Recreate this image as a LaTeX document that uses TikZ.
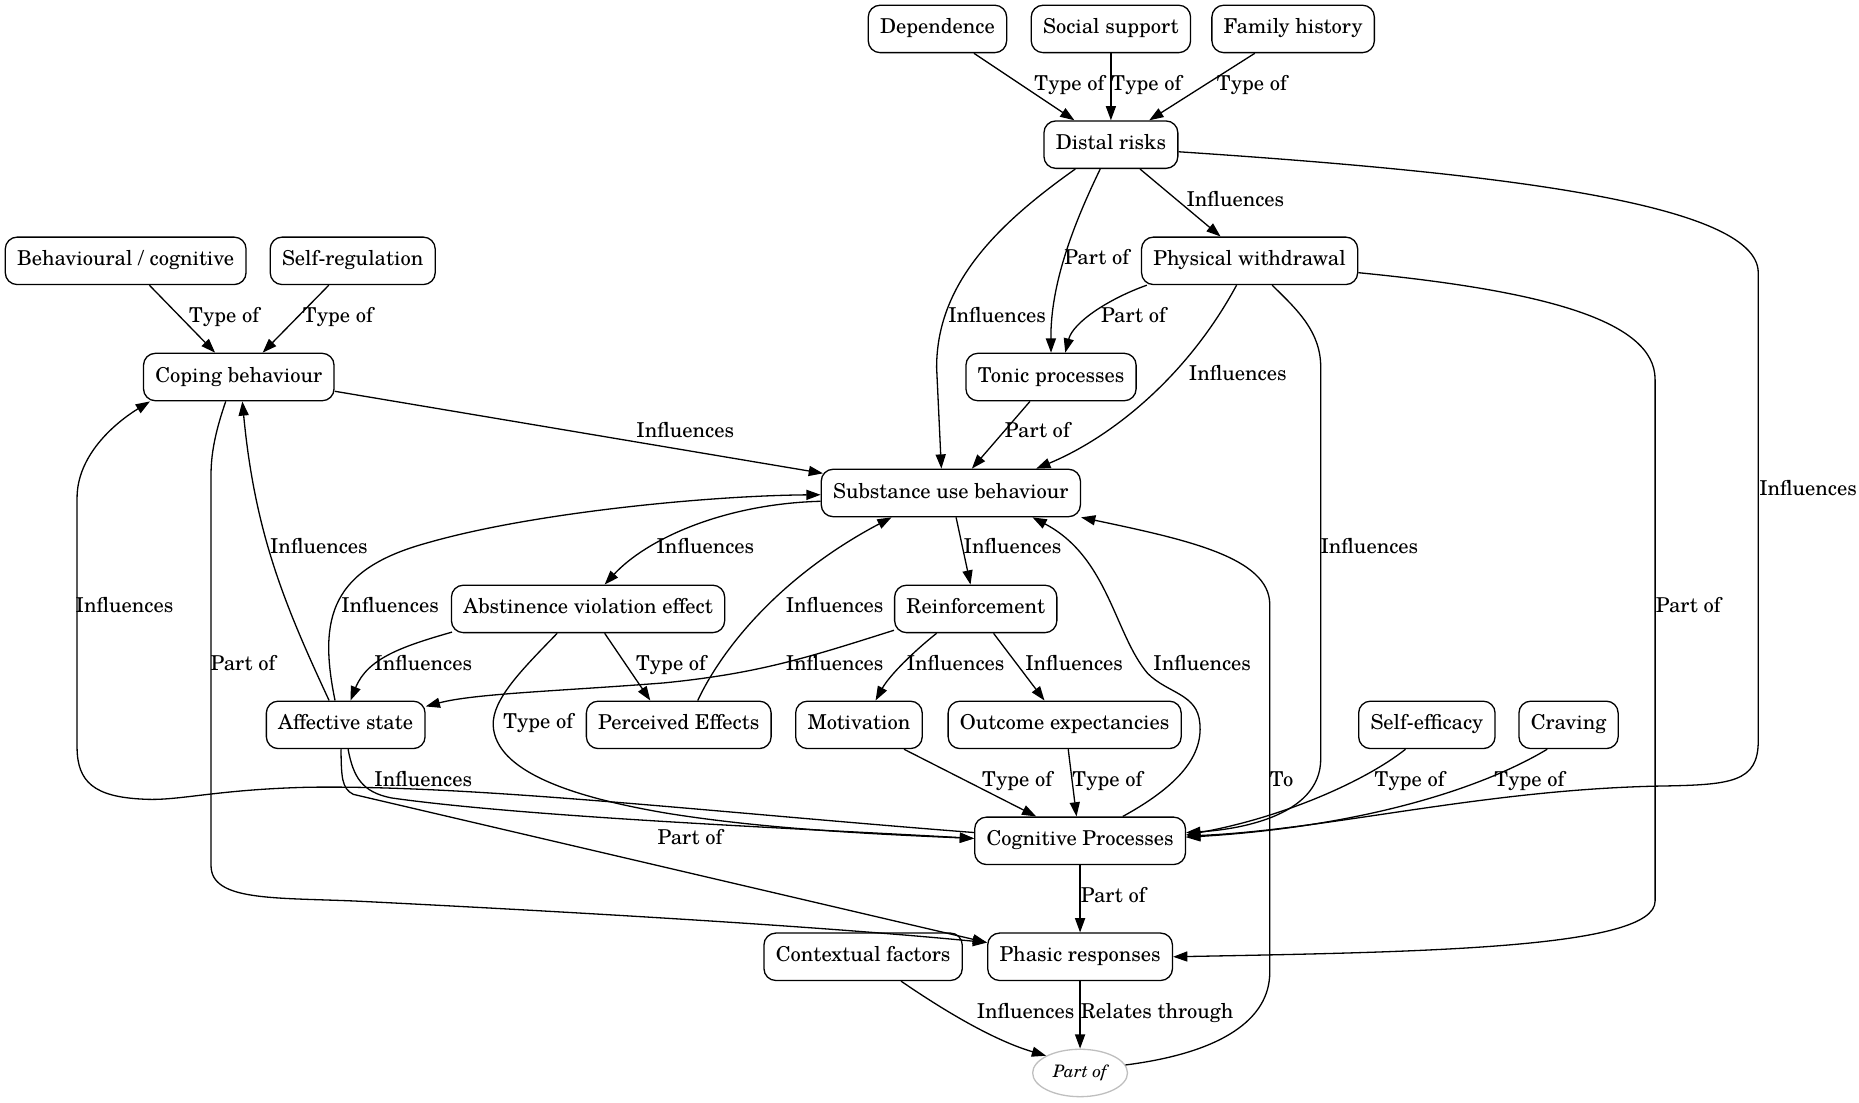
\documentclass[tikz,border=0pt]{standalone}
\usepackage{fontspec}
\setmainfont{texgyreschola}[Extension=.otf, UprightFont=*-regular, ItalicFont=*-italic, BoldFont=*-bold, BoldItalicFont=*-bolditalic]
\usetikzlibrary{arrows.meta,calc,shapes.geometric}
\begin{document}
\begin{tikzpicture}[x=1pt,y=-1pt,
  box/.style={draw, line width=1.1pt, rounded corners=10pt, minimum height=40pt, inner xsep=10pt, inner ysep=0pt,
    font=\fontsize{17.3}{20}\selectfont, text height=12.5pt, text depth=4pt},
  lab/.style={font=\fontsize{17.3}{20}\selectfont, inner sep=1pt, text height=12.5pt, text depth=4pt},
  arr/.style={line width=1.1pt, -{Triangle[length=12pt,width=8.5pt]}},
  oval/.style={ellipse, draw=black!25, line width=1.1pt, minimum width=80pt, minimum height=40pt, inner sep=0pt,
    font=\fontsize{14.5}{16}\selectfont\itshape}]
\useasboundingbox (0,0) rectangle (1568,930);
% nodes
\node[box] (dep) at (790.7,24.4) {Dependence};
\node[box] (soc) at (937,24.4) {Social support};
\node[box] (fam) at (1090.7,24.4) {Family history};
\node[box] (distal) at (937,122) {Distal risks};
\node[box] (beh) at (106,220) {Behavioural / cognitive};
\node[box] (selfreg) at (297.5,220) {Self-regulation};
\node[box] (phys) at (1054,220) {Physical withdrawal};
\node[box] (coping) at (201.4,318) {Coping behaviour};
\node[box] (tonic) at (886.5,318) {Tonic processes};
\node[box] (sub) at (802,415.8) {Substance use behaviour};
\node[box] (abst) at (496,513.6) {Abstinence violation effect};
\node[box] (reinf) at (823,513.6) {Reinforcement};
\node[box] (aff) at (291.6,611.4) {Affective state};
\node[box] (perc) at (572.5,611.4) {Perceived Effects};
\node[box] (motiv) at (724.5,611.4) {Motivation};
\node[box] (outc) at (898,611.4) {Outcome expectancies};
\node[box] (selfeff) at (1203.5,611.4) {Self-efficacy};
\node[box] (crav) at (1323,611.4) {Craving};
\node[box] (cog) at (911,709.2) {Cognitive Processes};
\node[box] (ctx) at (728,807) {Contextual factors};
\node[box] (phasic) at (911,807) {Phasic responses};
\node[oval] (partof) at (911,905) {Part of};
% edges
\draw[arr] (dep) -- (distal);
\draw[arr] (soc) -- (distal);
\draw[arr] (fam) -- (distal);
\draw[arr] (distal) -- (phys);
\draw[arr] ($(distal.south)+(-9,0)$) .. controls (905,190) and (886,240) .. (tonic.north);
\draw[arr] ($(distal.south)+(-30,0)$) .. controls (840,190) and (790,240) .. (790,310) -- ($(sub.north)+(-8,0)$);
\draw[arr] ($(distal.east)+(0,6)$) .. controls (1250,145) and (1483,170) .. (1483,230) -- (1483,625) .. controls (1483,660) and (1460,662) .. (1400,663) .. controls (1250,666) and (1120,700) .. ($(cog.east)+(0,-4)$);
\draw[arr] (beh) -- (coping);
\draw[arr] (selfreg) -- (coping);
\draw[arr] ($(phys.south west)+(5,0)$) .. controls (935,252) and (905,272) .. ($(tonic.north)+(12,0)$);
\draw[arr] ($(phys.south)+(-11,0)$) .. controls (1000,320) and (935,370) .. ($(sub.north)+(72,0)$);
\draw[arr] ($(phys.south)+(19,0)$) .. controls (1095,262) and (1114,280) .. (1114,310) -- (1114,640) .. controls (1114,690) and (1040,700) .. ($(cog.east)+(0,-7)$);
\draw[arr] ($(phys.east)+(0,10)$) .. controls (1300,245) and (1396,270) .. (1396,320) -- (1396,760) .. controls (1396,800) and (1200,803) .. (phasic.east);
\draw[arr] ($(coping.east)+(0,12)$) -- ($(sub.north west)+(2,4)$);
\draw[arr] ($(coping.south)+(-11,0)$) .. controls (183,360) and (178,380) .. (178,400) -- (178,730) .. controls (178,760) and (230,757) .. (300,760) .. controls (500,770) and (700,782) .. ($(phasic.west)+(0,-12)$);
\draw[arr] (tonic) -- (sub);
\draw[arr] ($(sub.west)+(0,7)$) .. controls (610,425) and (545,455) .. ($(abst.north)+(14,0)$);
\draw[arr] (sub) -- (reinf);
\draw[arr] ($(aff.north)+(-14,0)$) .. controls (240,510) and (215,450) .. ($(coping.south)+(3,0)$);
\draw[arr] ($(aff.north)+(-9,0)$) .. controls (268,520) and (280,480) .. (360,458) .. controls (450,432) and (600,418) .. ($(sub.west)+(0,1.5)$);
\draw[arr] ($(abst.south west)+(1,-1)$) .. controls (340,545) and (310,555) .. ($(aff.north)+(4,0)$);
\draw[arr] ($(abst.south)+(14,0)$) -- ($(perc.north)+(-24,0)$);
\draw[arr] ($(abst.south)+(-26,0)$) .. controls (440,565) and (415,590) .. (416,612) .. controls (418,650) and (480,672) .. (563,686) .. controls (650,700) and (750,704) .. ($(cog.west)+(0,-2)$);
\draw[arr] ($(perc.north)+(16,0)$) .. controls (610,545) and (660,485) .. ($(sub.south)+(-50,0)$);
\draw[arr] ($(reinf.west)+(0,18)$) .. controls (680,555) and (640,568) .. (560,576) .. controls (470,583) and (400,585) .. ($(aff.north east)+(0,5)$);
\draw[arr] ($(reinf.south)+(-33,0)$) .. controls (770,550) and (750,570) .. ($(motiv.north)+(14,0)$);
\draw[arr] ($(reinf.south)+(15,0)$) -- ($(outc.north)+(-17,0)$);
\draw[arr] ($(aff.south)+(2,0)$) .. controls (298,655) and (305,668) .. (330,673) .. controls (450,690) and (700,700) .. ($(cog.west)+(0,-2)$);
\draw[arr] ($(aff.south)+(-4,0)$) .. controls (288,655) and (288,665) .. (298,670) -- ($(phasic.west)+(0,-12)$);
\draw[arr] ($(cog.west)+(0,-7)$) .. controls (600,685) and (400,662) .. (260,664) .. controls (180,666) and (150,676) .. (120,674) .. controls (80,672) and (65,660) .. (65,630) -- (65,420) .. controls (65,385) and (95,358) .. ($(coping.south west)+(6,0)$);
\draw[arr] ($(motiv.south)+(38,0)$) -- ($(cog.north)+(-37,0)$);
\draw[arr] ($(outc.south)+(3,0)$) -- ($(cog.north)+(-3,0)$);
\draw[arr] ($(selfeff.south)+(-18,0)$) .. controls (1150,660) and (1080,690) .. ($(cog.east)+(0,-5)$);
\draw[arr] ($(crav.south)+(-18,0)$) .. controls (1250,665) and (1150,697) .. ($(cog.east)+(0,-3)$);
\draw[arr] ($(cog.north)+(36,0)$) .. controls (990,665) and (1015,640) .. (1012,610) .. controls (1010,585) and (985,585) .. (968,568) .. controls (940,535) and (935,470) .. ($(sub.south east)+(-41,0)$);
\draw[arr] (cog) -- (phasic);
\draw[arr] ($(ctx.south)+(32,0)$) .. controls (800,855) and (840,878) .. (partof.north west);
\draw[arr] (phasic) -- (partof);
\draw[arr] (partof.10) .. controls (1030,888) and (1071,860) .. (1071,820) -- (1071,510) .. controls (1071,470) and (1000,455) .. (sub.south east);
% labels
\node[lab] (l1) at (902,72) {Type of};
\node[lab] (l2) at (967,72) {Type of};
\node[lab] (l3) at (1056,72) {Type of};
\node[lab] (l4) at (1042,170) {Influences};
\node[lab] (l5) at (925,219) {Part of};
\node[lab] (l6) at (841,268) {Influences};
\node[lab] (l7) at (1525,414) {Influences};
\node[lab] (l8) at (189,268) {Type of};
\node[lab] (l9) at (285,268) {Type of};
\node[lab] (l10) at (956,268) {Part of};
\node[lab] (l11) at (1044,317) {Influences};
\node[lab] (l12) at (1155,463) {Influences};
\node[lab] (l13) at (1424,512) {Part of};
\node[lab] (l14) at (578,365) {Influences};
\node[lab] (l15) at (205,561) {Part of};
\node[lab] (l16) at (875,365) {Part of};
\node[lab] (l17) at (595,463) {Influences};
\node[lab] (l18) at (854,463) {Influences};
\node[lab] (l19) at (269,463) {Influences};
\node[lab] (l20) at (329,512) {Influences};
\node[lab] (l21) at (357,561) {Influences};
\node[lab] (l22) at (566,561) {Type of};
\node[lab] (l23) at (454,610) {Type of};
\node[lab] (l24) at (704,512) {Influences};
\node[lab] (l25) at (704,561) {Influences};
\node[lab] (l26) at (806,561) {Influences};
\node[lab] (l27) at (906,561) {Influences};
\node[lab] (l28) at (357,659) {Influences};
\node[lab] (l29) at (582,708) {Part of};
\node[lab] (l30) at (105,512) {Influences};
\node[lab] (l31) at (858,659) {Type of};
\node[lab] (l32) at (934,659) {Type of};
\node[lab] (l33) at (1189,659) {Type of};
\node[lab] (l34) at (1290,659) {Type of};
\node[lab] (l35) at (1014,561) {Influences};
\node[lab] (l36) at (939,757) {Part of};
\node[lab] (l37) at (865,855) {Influences};
\node[lab] (l38) at (976,855) {Relates through};
\node[lab] (l39) at (1081,659) {To};
\end{tikzpicture}
\end{document}
